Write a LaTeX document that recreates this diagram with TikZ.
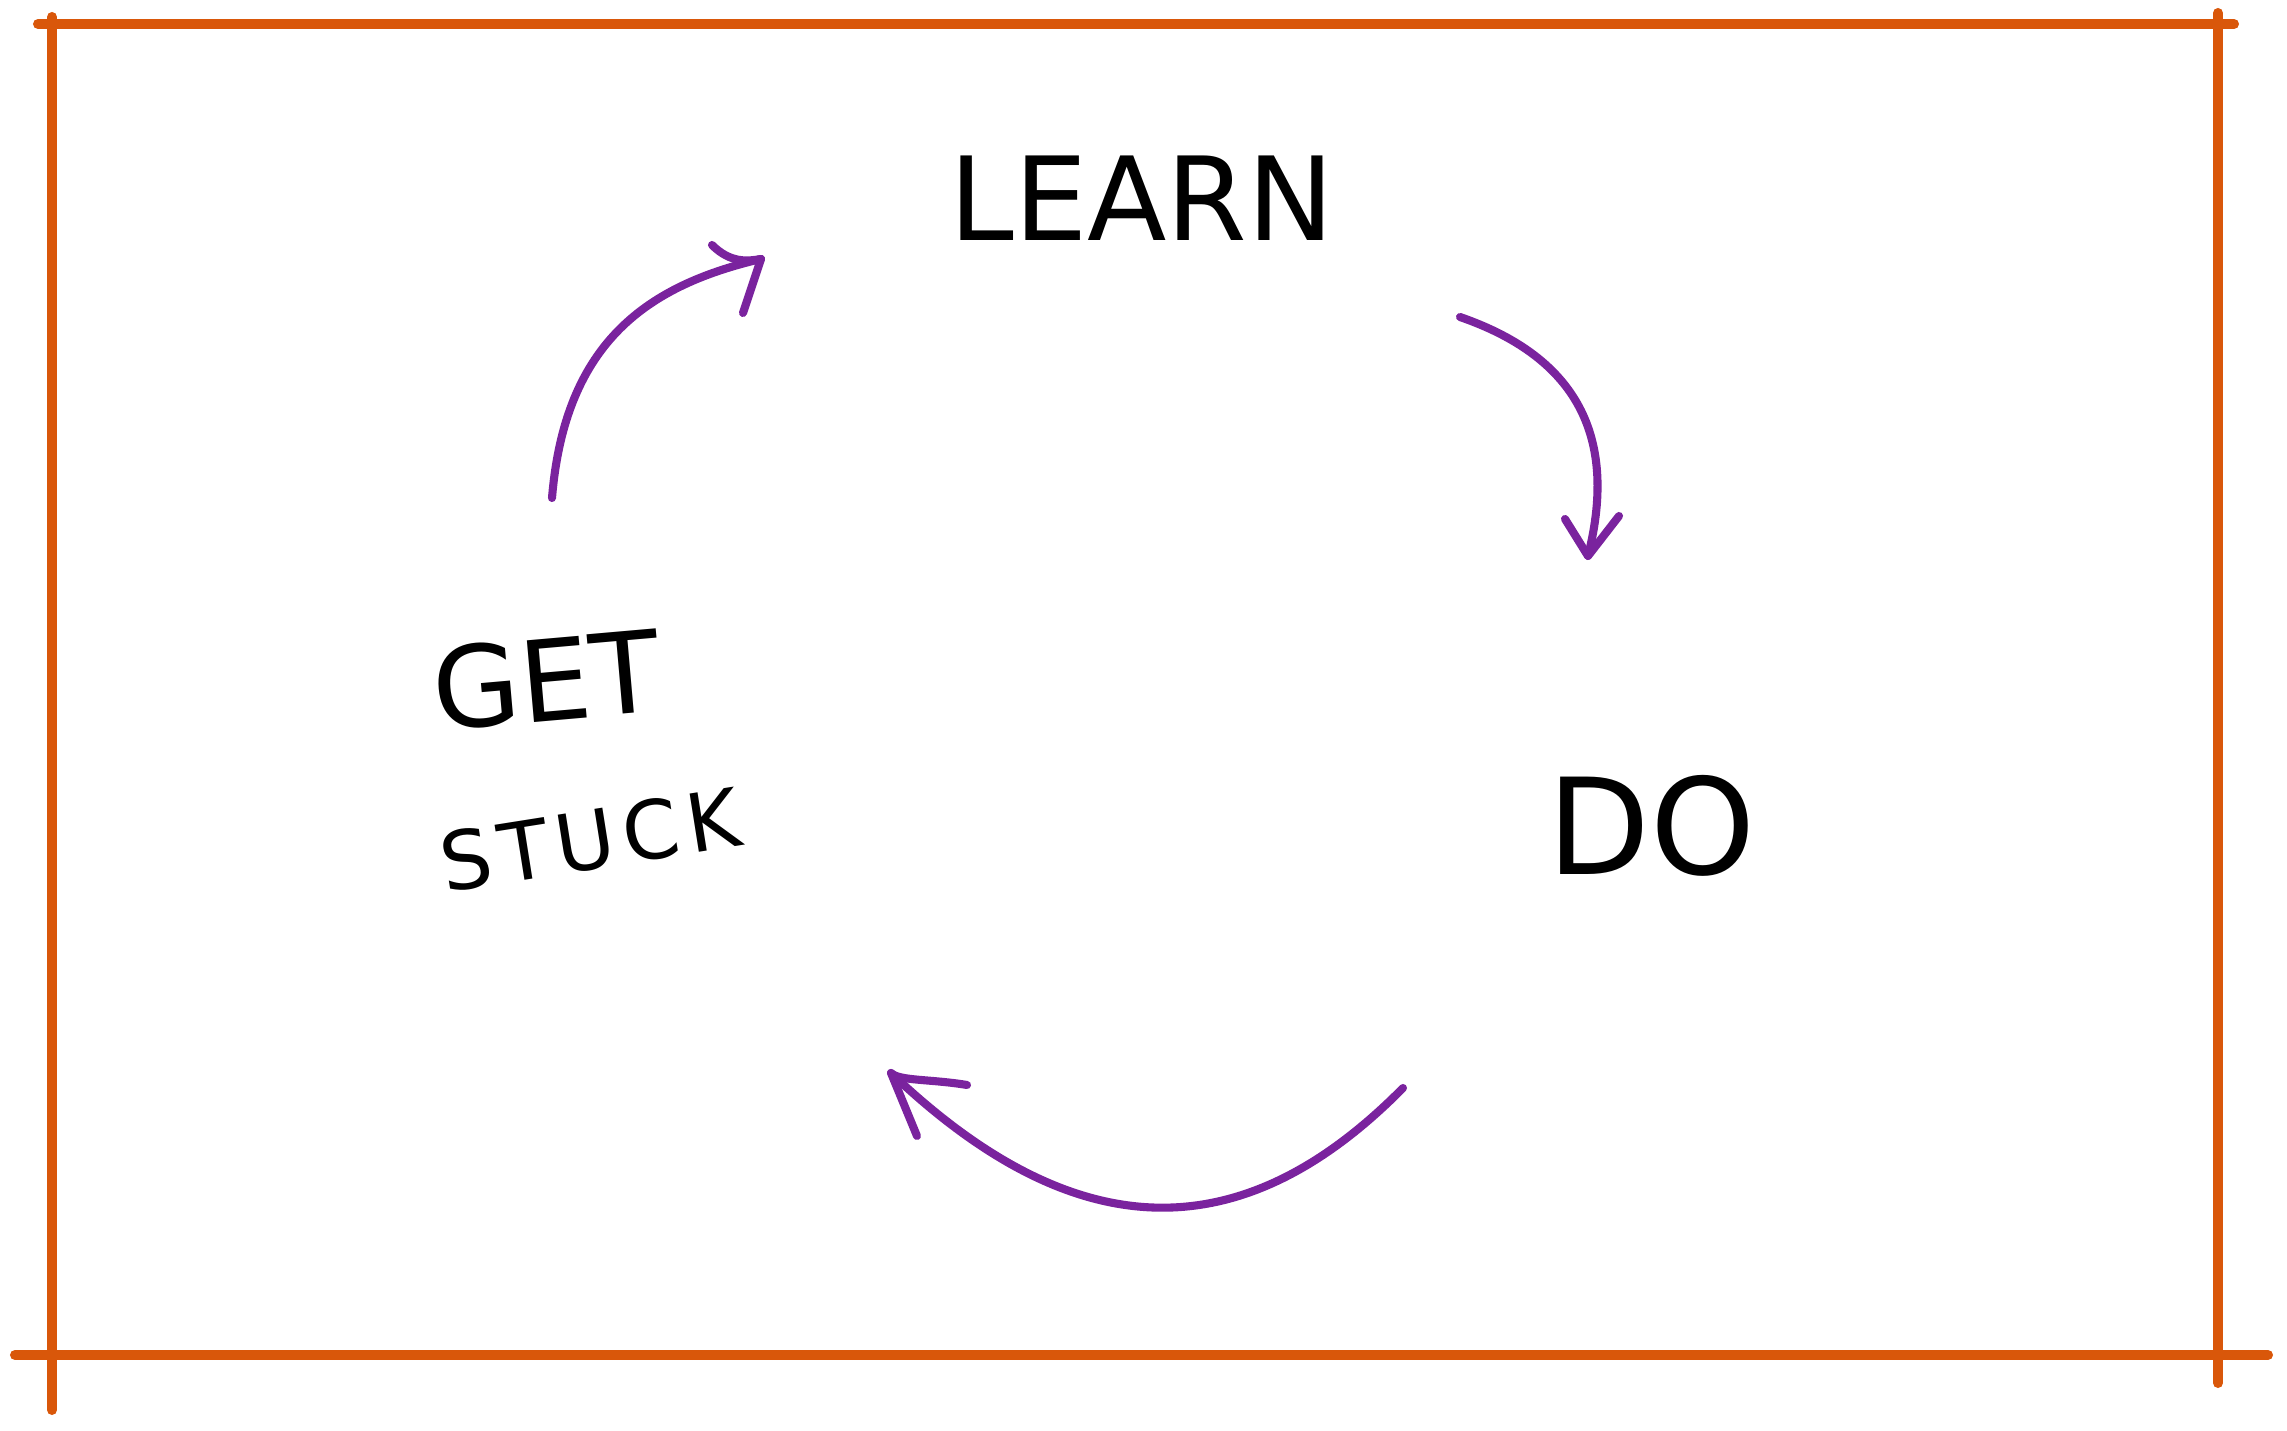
\documentclass[tikz,border=0pt]{standalone}
\usepackage{fontspec}
\setmainfont{DejaVu Sans}
\newfontfamily\spacedfont[LetterSpace=10]{DejaVu Sans}
\usetikzlibrary{calc}
\definecolor{frameorange}{HTML}{D9570A}
\definecolor{arrowpurple}{HTML}{7A239E}
\begin{document}
\begin{tikzpicture}[x=0.01cm,y=-0.01cm,
  frame/.style={draw=frameorange,line width=2.85pt,line cap=round},
  cyclearrow/.style={draw=arrowpurple,line width=2.3pt,line cap=round,line join=round},
  word/.style={inner sep=0pt,text=black}]
\useasboundingbox (0,0) rectangle (2287,1431);
\fill[white] (0,0) rectangle (2287,1431);
% frame lines
\draw[frame] (38,24) -- (2234,24);
\draw[frame] (52,17) -- (52,1410);
\draw[frame] (2218,13) -- (2218,1383);
\draw[frame] (15,1355) -- (2268,1355);
% labels
\node[word,font=\fontsize{33}{40}\selectfont] (learn) at (1142,198) {LEARN};
\node[word,font=\fontsize{32}{38}\selectfont,rotate=5] (get) at (546,680) {GET};
\node[word,font=\spacedfont\fontsize{23}{28}\selectfont,rotate=9] (stuck) at (590,840) {STUCK};
\node[word,font=\fontsize{38}{46}\selectfont] (do) at (1652,826) {DO};
% arrow end points
\coordinate (getout) at (552,498);
\coordinate (learnin) at (761,259);
\coordinate (learnout) at (1460,317);
\coordinate (doin) at (1588,556);
\coordinate (doout) at (1403,1088);
\coordinate (stuckin) at (891,1073);
% arrows
\draw[cyclearrow] (getout) .. controls (565,340) and (650,285) .. (learnin);
\draw[cyclearrow] ($(learnin)+(-49,-14)$) .. controls ($(learnin)+(-30,5)$) and ($(learnin)+(-12,2)$) .. (learnin)
  -- ($(learnin)+(-10,30)$) -- ($(learnin)+(-18,54)$);
\draw[cyclearrow] (learnout) .. controls (1570,355) and (1620,430) .. (doin);
\draw[cyclearrow] ($(doin)+(-23,-37)$) -- (doin) -- ($(doin)+(31,-40)$);
\draw[cyclearrow] (doout) .. controls (1243,1250) and (1077,1250) .. (stuckin);
\draw[cyclearrow] ($(stuckin)+(76,12)$) .. controls ($(stuckin)+(40,6)$) and ($(stuckin)+(8,8)$) .. (stuckin)
  -- ($(stuckin)+(26,63)$);
\end{tikzpicture}
\end{document}
